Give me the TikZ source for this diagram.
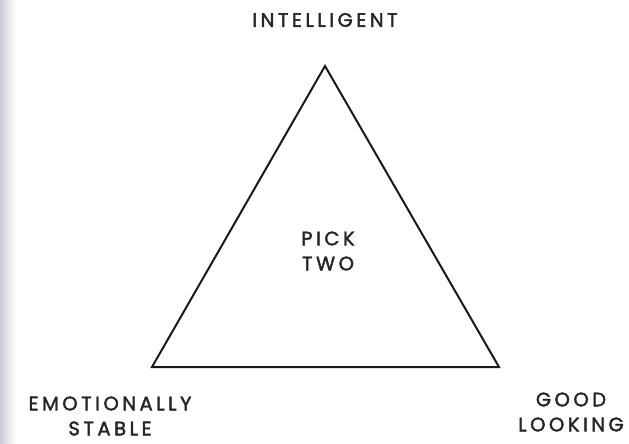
\documentclass[tikz,border=0pt]{standalone}
\usepackage{fontspec}
\setmainfont{Poppins}[LetterSpace=18, FakeBold=2]
\begin{document}
\begin{tikzpicture}[x=1pt, y=-1pt,
  pt2edge/.style = {line width=2pt, black!90, line join=miter},
  pt2lbl/.style = {font=\fontsize{19.5}{25}\selectfont, align=center, text=black!85, inner sep=0pt},
  pt2fade/.style = {left color=blue!15!gray!35, right color=white}
]
  \useasboundingbox (0,0) rectangle (629,444);
  % blurred left edge
  \shade[pt2fade] (0,0) rectangle (16,444);
  % corners
  \coordinate (apex) at (325,66);
  \coordinate (lowL) at (152,367);
  \coordinate (lowR) at (499,367);
  \draw[pt2edge] (apex) -- (lowL) -- (lowR) -- cycle;
  % labels
  \node[pt2lbl] (intel) at (325,20) {INTELLIGENT};
  \node[pt2lbl] (pick) at (328,251) {PICK\\TWO};
  \node[pt2lbl] (stable) at (110,416) {EMOTIONALLY\\STABLE};
  \node[pt2lbl] (looks) at (571,412) {GOOD\\LOOKING};
\end{tikzpicture}
\end{document}
